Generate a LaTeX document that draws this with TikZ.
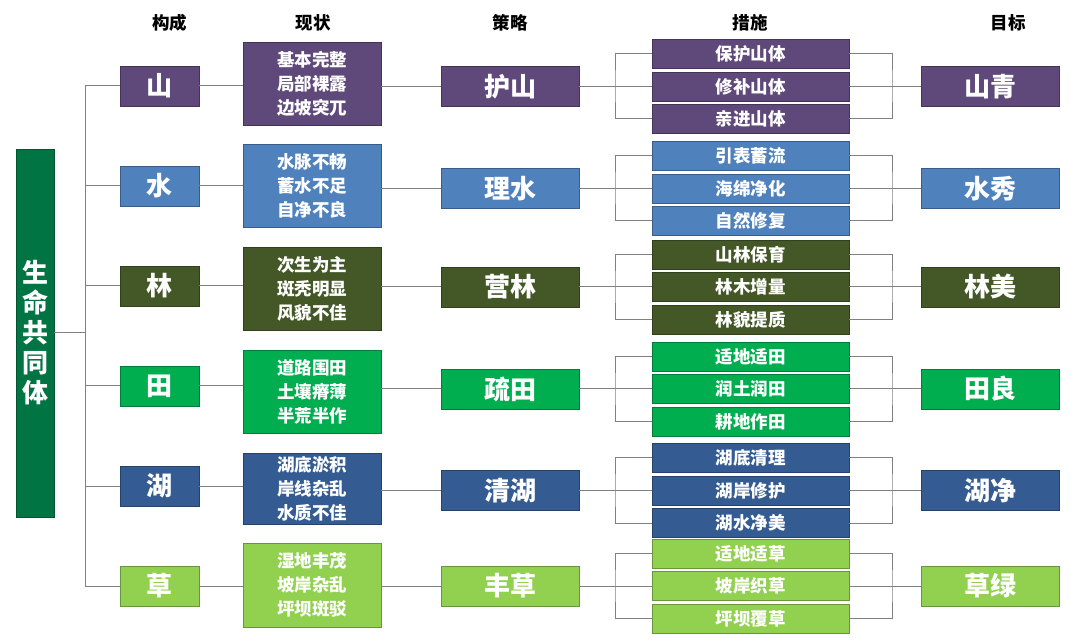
\documentclass[tikz,border=0pt]{standalone}
\usepackage{fontspec}
\setmainfont{Noto Sans CJK SC}
\definecolor{cShan}{HTML}{5F497A}
\definecolor{cShui}{HTML}{4F81BD}
\definecolor{cLin}{HTML}{435727}
\definecolor{cTian}{HTML}{00AE50}
\definecolor{cHu}{HTML}{345C93}
\definecolor{cCao}{HTML}{92D050}
\definecolor{cBig}{HTML}{017443}
\definecolor{cLine}{HTML}{808080}
\tikzset{
  box/.style={draw=#1!72!black, fill=#1, line width=0.8pt, text=white,
    font=\bfseries, inner sep=0pt, align=center},
  big/.style={font=\bfseries\fontsize{26}{30}\selectfont},
  small/.style={font=\bfseries\fontsize{17.5}{24}\selectfont},
  head/.style={font=\bfseries\fontsize{17.5}{20}\selectfont, text=black},
  conn/.style={draw=cLine, line width=1pt},
}
\begin{document}
\begin{tikzpicture}[x=1pt,y=-1pt]
\useasboundingbox (0,0) rectangle (1080,644);
\fill[white] (0,0) rectangle (1080,644);
% headers
\node[head] (h1) at (169.5,23) {构成};
\node[head] (h2) at (313,23) {现状};
\node[head] (h3) at (510,23) {策略};
\node[head] (h4) at (750,23) {措施};
\node[head] (h5) at (1008,23) {目标};
% big box
\node[box=cBig, big, minimum width=38pt, minimum height=368pt] (big) at (35,333) {生\\命\\共\\同\\体};
\coordinate (tm) at (85,333);
\foreach \i/\col/\cy/\comp/\st/\sy/\sh/\str/\my/\ma/\mb/\mc/\goal in {
 1/cShan/86/山/{基本完整\\局部裸露\\边坡突兀}/83.5/83/护山/86.5/保护山体/修补山体/亲进山体/山青,
 2/cShui/186/水/{水脉不畅\\蓄水不足\\自净不良}/185.5/83/理水/188.5/引表蓄流/海绵净化/自然修复/水秀,
 3/cLin/286/林/{次生为主\\斑秃明显\\风貌不佳}/288.5/83/营林/287/山林保育/林木增量/林貌提质/林美,
 4/cTian/386/田/{道路围田\\土壤瘠薄\\半荒半作}/391.5/83/疏田/389/适地适田/润土润田/耕地作田/田良,
 5/cHu/486/湖/{湖底淤积\\岸线杂乱\\水质不佳}/488.5/71/清湖/490.5/湖底清理/湖岸修护/湖水净美/湖净,
 6/cCao/586/草/{湿地丰茂\\坡岸杂乱\\坪坝斑驳}/585/84/丰草/586/适地适草/坡岸织草/坪坝覆草/草绿}
{
  \node[box=\col, big, minimum width=79pt, minimum height=40pt] (comp\i) at (159.5,\cy) {\comp};
  \node[box=\col, small, minimum width=138pt, minimum height=\sh pt] (stat\i) at (312,\sy) {\st};
  \node[box=\col, big, minimum width=138pt, minimum height=40pt] (strat\i) at (510,\my) {\str};
  \node[box=\col, small, minimum width=197pt, minimum height=29pt] (ma\i) at (750.5,\my-32.5) {\ma};
  \node[box=\col, small, minimum width=197pt, minimum height=29pt] (mb\i) at (750.5,\my) {\mb};
  \node[box=\col, small, minimum width=197pt, minimum height=29pt] (mc\i) at (750.5,\my+32.5) {\mc};
  \node[box=\col, big, minimum width=138pt, minimum height=40pt] (goal\i) at (990,\my) {\goal};
  \coordinate (t\i) at (85,\cy);
  \coordinate (lb\i) at (615,\my);
  \coordinate (rb\i) at (892,\my);
  \draw[conn] (t\i) -- (comp\i.west);
  \draw[conn] (comp\i.east) -- (comp\i.east -| stat\i.west);
  \draw[conn] (stat\i.east |- strat\i.west) -- (strat\i.west);
  \draw[conn] (strat\i.east) -- (mb\i.west);
  \draw[conn] (ma\i.west) -| (lb\i) |- (mc\i.west);
  \draw[conn] (ma\i.east) -| (rb\i) |- (mc\i.east);
  \draw[conn] (mb\i.east) -- (goal\i.west);
}
\draw[conn] (t1) -- (t6);
\draw[conn] (big.east |- tm) -- (tm);
\end{tikzpicture}
\end{document}
